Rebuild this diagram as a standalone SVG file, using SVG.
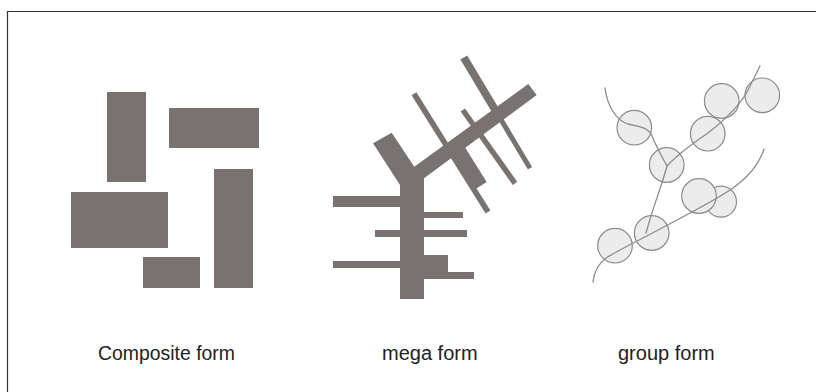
<svg xmlns="http://www.w3.org/2000/svg" width="816" height="392" viewBox="0 0 816 392">
  <style>
    .solid { fill: #787271; stroke: none; }
    .cell { fill: #ececec; stroke: #8c8c8c; stroke-width: 1.2; }
    .path { fill: none; stroke: #8c8c8c; stroke-width: 1.3; stroke-linecap: round; }
    .label { font-family: "Liberation Sans", Arial, sans-serif; font-size: 20px; fill: #222; }
    .frame { fill: none; stroke: #333; stroke-width: 1.2; }
  </style>
  <rect x="0" y="0" width="816" height="392" fill="#ffffff"/>
  <path class="frame" d="M7.5,392 V11.5 H816"/>

  <g id="composite-form">
    <rect class="solid" x="107" y="92" width="39" height="90"/>
    <rect class="solid" x="169" y="108" width="90" height="40"/>
    <rect class="solid" x="71" y="192" width="97" height="56"/>
    <rect class="solid" x="214" y="169" width="39" height="119"/>
    <rect class="solid" x="143" y="257" width="57" height="31"/>
  </g>

  <g id="mega-form">
    <polygon class="solid" points="373,143.3 391.7,132.7 414.3,166.7 528.3,84 536.7,95 424,178.3 424,299 400,299 400,185"/>
    <polygon class="solid" points="416.4,92.2 490.4,210.6 485.6,213.6 411.6,95.2"/>
    <polygon class="solid" points="448.6,149.3 461.3,141.4 486.7,182 474,190"/>
    <polygon class="solid" points="465,108.4 517.2,181.7 512.8,184.9 460.6,111.6"/>
    <polygon class="solid" points="467.2,55.45 501.6,112.9 494.8,117.1 460.4,59.55"/>
    <polygon class="solid" points="500.35,113.7 532.15,167 527.85,169.6 496.05,116.3"/>
    <rect class="solid" x="333" y="196" width="68" height="11"/>
    <rect class="solid" x="423" y="212" width="40" height="6"/>
    <rect class="solid" x="375" y="230" width="92" height="7"/>
    <rect class="solid" x="333" y="261" width="68" height="7"/>
    <rect class="solid" x="423" y="255" width="25" height="24"/>
    <rect class="solid" x="447" y="272" width="27" height="7"/>
  </g>

  <g id="group-form">
    <circle class="cell" cx="634.3" cy="127.7" r="17.3"/>
    <circle class="cell" cx="666.7" cy="165" r="17.3"/>
    <circle class="cell" cx="707.7" cy="133.7" r="17.3"/>
    <circle class="cell" cx="721.7" cy="101" r="17.3"/>
    <circle class="cell" cx="762.3" cy="95.3" r="17.3"/>
    <circle class="cell" cx="721" cy="201.7" r="15.5"/>
    <circle class="cell" cx="699" cy="196" r="17.3"/>
    <circle class="cell" cx="651.7" cy="233" r="17.3"/>
    <circle class="cell" cx="615" cy="245.7" r="17.3"/>
  </g>

  <g id="connectors">
    <path class="path" d="M605,88 C607,104 615,120 628,124 C640,127 648,127 652,136 C656,146 662,157 667,166 C662,185 652,210 646,233"/>
    <path class="path" d="M667,166 C680,152 695,142 708,133 C722,122 738,108 747,92 C752,82 756,74 760,66"/>
    <path class="path" d="M593,282 C594,272 598,264 606,258 C620,249 640,240 660,229 C690,213 712,202 730,190 C745,180 758,168 764,149"/>
  </g>

  <g id="labels">
    <text class="label" x="98" y="360" textLength="137" lengthAdjust="spacingAndGlyphs">Composite form</text>
    <text class="label" x="382" y="360">mega form</text>
    <text class="label" x="618" y="360">group form</text>
  </g>
</svg>
